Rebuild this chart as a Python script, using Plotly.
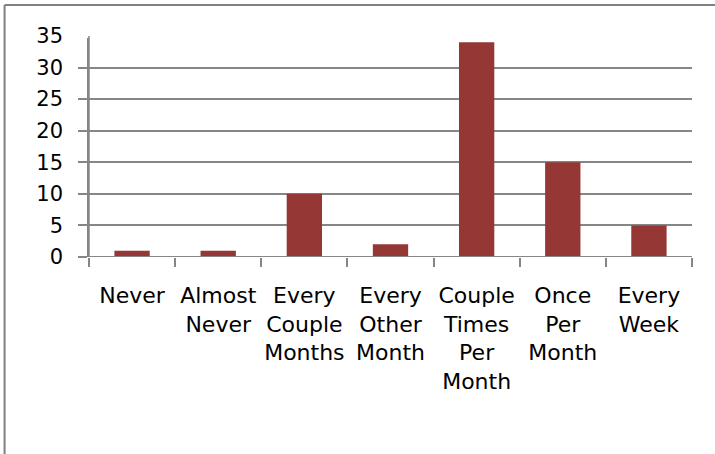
import plotly.graph_objects as go

categories = ["Never", "Almost<br>Never", "Every<br>Couple<br>Months", "Every<br>Other<br>Month",
              "Couple<br>Times<br>Per<br>Month", "Once<br>Per<br>Month", "Every<br>Week"]
values = [1, 1, 10, 2, 34, 15, 5]
y_ticks = [0, 5, 10, 15, 20, 25, 30, 35]

W, H = 715, 454
L, R, T, B = 89, 22.5, 36, 197
pw, ph = W - L - R, H - T - B

def px_x(p):
    return (p - L) / pw

def px_y(p):
    return (H - B - p) / ph

fig = go.Figure(go.Bar(x=categories, y=values, marker_color="#953735", marker_line_width=0))

grid = "#868686"
yfont = dict(family="DejaVu Sans", size=21, color="#000000")
xfont = dict(family="DejaVu Sans", size=22, color="#000000")
fig.update_layout(
    width=W, height=H, margin=dict(l=L, r=R, t=T, b=B, pad=0),
    paper_bgcolor="white", plot_bgcolor="white", bargap=0.59, showlegend=False,
    font=yfont,
    xaxis=dict(type="category", tickson="boundaries", ticks="outside",
               ticklen=9, tickcolor=grid, tickwidth=1.5, showline=False, showgrid=False,
               zeroline=False, tickangle=0, tickfont=xfont, ticklabelstandoff=23),
    yaxis=dict(range=[0, 35], tickvals=y_ticks, ticks="outside", ticklen=9, tickcolor=grid,
               tickwidth=2, gridcolor=grid, gridwidth=2, showline=True, linecolor=grid,
               linewidth=1.5, zeroline=False, tickfont=yfont, ticklabelstandoff=11),
)

shapes = [
    dict(type="line", xref="paper", yref="paper", x0=px_x(70), x1=1.01, y0=1, y1=1,
         line=dict(color="white", width=4), layer="above"),
    dict(type="line", xref="paper", yref="paper", x0=0, x1=0, y0=0, y1=1,
         line=dict(color=grid, width=1.5), layer="above"),
    dict(type="line", xref="paper", yref="y", x0=px_x(80), x1=1, y0=0, y1=0,
         line=dict(color=grid, width=2), layer="above"),
    dict(type="line", xref="paper", yref="paper", x0=px_x(4.5), x1=px_x(4.5), y0=px_y(5), y1=px_y(460),
         line=dict(color="#808080", width=2)),
    dict(type="line", xref="paper", yref="paper", x0=px_x(4.5), x1=px_x(720), y0=px_y(5), y1=px_y(5),
         line=dict(color="#808080", width=2)),
]
fig.update_layout(shapes=shapes)

fig.write_html("out.html", config={"displayModeBar": False},
               post_script="document.body.style.margin='0';document.body.style.overflow='hidden';")
